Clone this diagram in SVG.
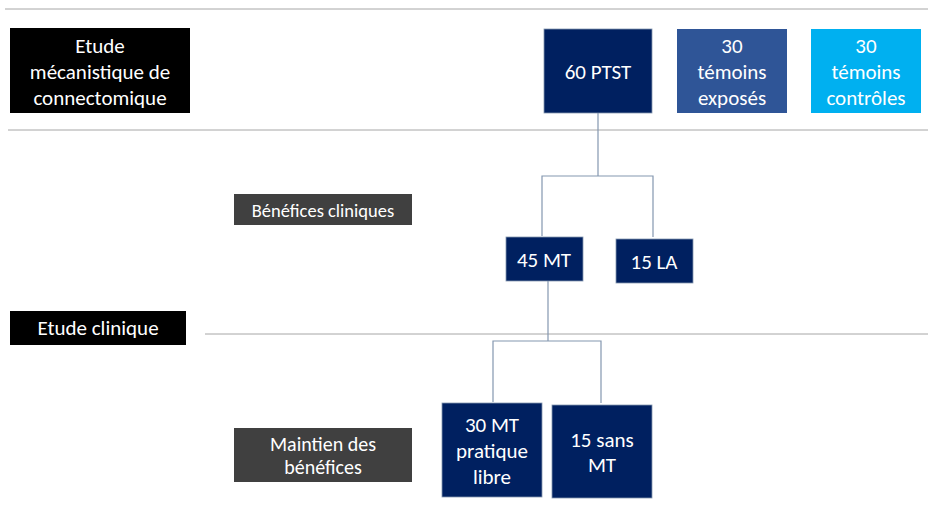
<svg xmlns="http://www.w3.org/2000/svg" width="928" height="509" viewBox="0 0 928 509">
<style>
text{font-family:Carlito,Lato,"Liberation Sans",sans-serif;fill:#fff;text-anchor:middle;dominant-baseline:central}
.t18{font-size:21px}
.t17{font-size:21px}
.t15{font-size:18.5px}
.t16{font-size:20px}
.sep{stroke:#a6a6a6;stroke-width:1;fill:none}
.con{stroke:#8497b0;stroke-width:1.2;fill:none}
.navy{fill:#002060;stroke:#8497b0;stroke-width:0.8}
</style>
<rect width="928" height="509" fill="#fff"/>
<g id="separators">
<line class="sep" x1="5" y1="9" x2="928" y2="9"/>
<line class="sep" x1="8" y1="130" x2="928" y2="130"/>
<line class="sep" x1="205" y1="334" x2="928" y2="334"/>
</g>
<g id="connectors">
<polyline class="con" points="598,113 598,176"/>
<polyline class="con" points="542,236 542,176 653,176 653,237"/>
<polyline class="con" points="548,281 548,341"/>
<polyline class="con" points="493,402 493,341 601,341 601,403"/>
</g>
<g id="n-meca">
<rect x="10" y="28" width="180" height="85" fill="#000"/>
<text class="t18" x="100" y="46">Etude</text>
<text class="t18" x="100" y="72">mécanistique de</text>
<text class="t18" x="100" y="98">connectomique</text>
</g>
<g id="n-ptst">
<rect class="navy" x="544" y="29" width="108" height="84"/>
<text class="t18" x="598" y="72">60 PTST</text>
</g>
<g id="n-exposes">
<rect x="677" y="29" width="110" height="84" fill="#2f5597"/>
<text class="t18" x="732" y="46">30</text>
<text class="t18" x="732" y="72">témoins</text>
<text class="t18" x="732" y="98">exposés</text>
</g>
<g id="n-controles">
<rect x="811" y="29" width="110" height="84" fill="#00b0f0"/>
<text class="t18" x="866" y="46">30</text>
<text class="t18" x="866" y="72">témoins</text>
<text class="t18" x="866" y="98">contrôles</text>
</g>
<g id="n-benef">
<rect x="234" y="194" width="178" height="31" fill="#404040"/>
<text class="t15" x="323" y="210">Bénéfices cliniques</text>
</g>
<g id="n-45mt">
<rect class="navy" x="506" y="237" width="77" height="44"/>
<text class="t17" x="544" y="260">45 MT</text>
</g>
<g id="n-15la">
<rect class="navy" x="616" y="239" width="77" height="44"/>
<text class="t17" x="654" y="262">15 LA</text>
</g>
<g id="n-clinique">
<rect x="10" y="311" width="176" height="34" fill="#000"/>
<text class="t18" x="98" y="328">Etude clinique</text>
</g>
<g id="n-maintien">
<rect x="234" y="428" width="178" height="54" fill="#404040"/>
<text class="t16" x="323" y="444">Maintien des</text>
<text class="t16" x="323" y="467">bénéfices</text>
</g>
<g id="n-30mt">
<rect class="navy" x="442" y="403" width="100" height="94"/>
<text class="t18" x="492" y="425">30 MT</text>
<text class="t18" x="492" y="451">pratique</text>
<text class="t18" x="492" y="477">libre</text>
</g>
<g id="n-15sans">
<rect class="navy" x="552" y="405" width="100" height="93"/>
<text class="t18" x="602" y="440">15 sans</text>
<text class="t18" x="602" y="465">MT</text>
</g>
</svg>
